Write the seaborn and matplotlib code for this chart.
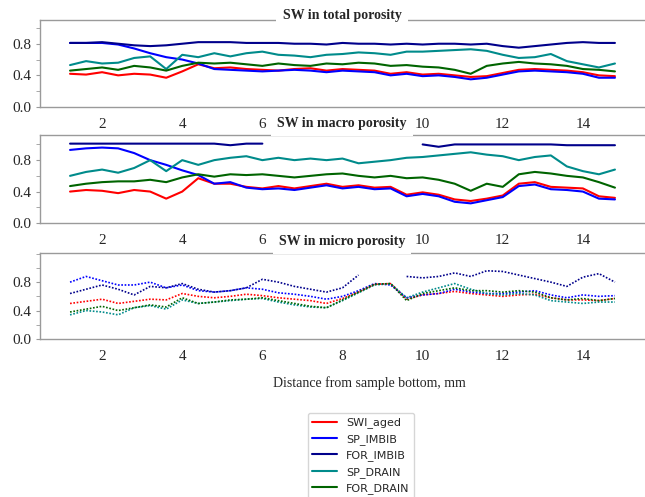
import numpy as np
import pandas as pd
import matplotlib
matplotlib.use('Agg')
import matplotlib.pyplot as plt
from matplotlib.lines import Line2D
from matplotlib.ticker import MultipleLocator
import seaborn as sns

# x : distance from sample bottom (mm)
x_mm = [1.2, 1.6, 2.0, 2.4, 2.8, 3.2, 3.6, 4.0, 4.4, 4.8, 5.2, 5.6, 6.0, 6.4, 6.8, 7.2, 7.6, 8.0,
        8.4, 8.8, 9.2, 9.6, 10.0, 10.4, 10.8, 11.2, 11.6, 12.0, 12.4, 12.8, 13.2, 13.6, 14.0, 14.4, 14.8]

series_names = ['SWI_aged', 'SP_IMBIB', 'FOR_IMBIB', 'SP_DRAIN', 'FOR_DRAIN']
series_colors = ['#ff0000', '#0000ff', '#00008b', '#008b8b', '#006400']
panel_titles = ['SW in total porosity', 'SW in macro porosity', 'SW in micro porosity']
nan = np.nan

# total porosity
tot_swi = [.42, .41, .44, .40, .42, .41, .37, .45, .54, .49, .50, .48, .47, .46, .48, .49, .46, .48,
           .47, .46, .42, .44, .41, .42, .40, .38, .39, .43, .47, .48, .47, .46, .44, .40, .39]
tot_sp_imb = [.81, .81, .81, .79, .74, .68, .63, .60, .55, .48, .47, .46, .45, .46, .47, .46, .44, .46,
              .45, .44, .40, .42, .39, .40, .38, .35, .37, .41, .45, .46, .45, .44, .42, .37, .37]
tot_for_imb = [.81, .81, .82, .80, .78, .77, .78, .80, .82, .82, .82, .81, .81, .81, .80, .80, .79, .81,
               .80, .80, .79, .80, .79, .80, .80, .79, .80, .77, .75, .77, .79, .81, .82, .81, .81]
tot_sp_dr = [.53, .58, .55, .56, .62, .64, .48, .66, .63, .68, .64, .68, .70, .66, .65, .63, .66, .67,
             .69, .68, .66, .70, .70, .71, .72, .73, .71, .66, .62, .63, .67, .58, .54, .50, .55]
tot_for_dr = [.46, .48, .50, .47, .52, .50, .46, .52, .56, .55, .56, .54, .52, .55, .53, .52, .55, .54,
              .56, .55, .52, .53, .51, .50, .47, .42, .52, .55, .57, .55, .54, .52, .48, .47, .45]

# macro porosity
mac_swi = [.40, .42, .41, .38, .42, .40, .31, .40, .57, .50, .50, .46, .44, .47, .44, .47, .50, .46,
           .48, .45, .46, .36, .39, .36, .30, .28, .31, .35, .50, .52, .46, .45, .44, .34, .32]
mac_sp_imb = [.93, .95, .96, .95, .89, .80, .74, .67, .61, .50, .52, .45, .43, .44, .42, .45, .48, .44,
              .46, .43, .44, .34, .37, .34, .27, .25, .29, .33, .47, .49, .43, .42, .40, .31, .30]
mac_for_imb = [1.01, 1.01, 1.01, 1.01, 1.01, 1.01, 1.01, 1.01, 1.01, 1.01, .99, 1.01, 1.01, nan, nan, nan, nan, nan,
               nan, nan, nan, nan, 1.0, .97, 1.0, 1.0, 1.0, 1.0, 1.0, 1.0, 1.0, .99, .99, .99, .99]
mac_sp_dr = [.60, .65, .68, .64, .70, .80, .66, .80, .74, .80, .83, .85, .80, .83, .80, .82, .80, .82,
             .76, .78, .80, .83, .84, .86, .88, .90, .87, .85, .80, .84, .86, .72, .66, .62, .68]
mac_for_dr = [.47, .50, .52, .53, .53, .55, .52, .58, .62, .59, .62, .61, .62, .60, .58, .60, .62, .63,
              .60, .58, .60, .57, .58, .55, .50, .41, .50, .46, .62, .65, .63, .60, .58, .52, .45]

# micro porosity
mic_swi = [.50, .53, .56, .50, .53, .56, .55, .64, .60, .58, .60, .63, .61, .58, .56, .54, .50, .57,
           .66, .77, .78, .56, .62, .64, .67, .64, .62, .60, .62, .63, .58, .55, .55, .54, .57]
mic_sp_imb = [.80, .88, .82, .76, .76, .80, .72, .76, .68, .66, .68, .72, .70, .65, .63, .60, .56, .60,
              .68, .78, .76, .58, .62, .64, .70, .66, .64, .64, .66, .68, .62, .58, .62, .60, .61]
mic_for_imb = [.64, .70, .76, .70, .62, .74, .72, .78, .70, .66, .68, .72, .84, .80, .74, .70, .66, .72,
               .90, nan, nan, .88, .86, .88, .93, .88, .96, .95, .90, .85, .80, .74, .87, .92, .80]
mic_sp_dr = [.34, .40, .38, .34, .44, .47, .42, .55, .50, .52, .54, .56, .57, .52, .48, .45, .44, .54,
             .65, .76, .78, .58, .66, .72, .78, .70, .64, .62, .64, .62, .54, .52, .50, .52, .52]
mic_for_dr = [.38, .42, .46, .40, .44, .48, .45, .58, .50, .52, .55, .56, .58, .54, .50, .46, .44, .55,
              .66, .77, .78, .54, .64, .68, .72, .68, .68, .66, .68, .66, .58, .55, .57, .54, .57]

panels = [
    [tot_swi, tot_sp_imb, tot_for_imb, tot_sp_dr, tot_for_dr],
    [mac_swi, mac_sp_imb, mac_for_imb, mac_sp_dr, mac_for_dr],
    [mic_swi, mic_sp_imb, mic_for_imb, mic_sp_dr, mic_for_dr],
]


def to_long(values):
    rows = []
    for name, vals in zip(series_names, values):
        seg = 0
        for xv, yv in zip(x_mm, vals):
            if np.isnan(yv):
                seg += 1
                continue
            rows.append({'x': xv, 'sw': yv, 'series': name, 'seg': f'{name}_{seg}'})
    return pd.DataFrame(rows)


sns.set_style('white')
plt.rcParams['font.family'] = ['Liberation Serif', 'DejaVu Serif']

W, H = 645, 497
fig = plt.figure(figsize=(W / 100, H / 100), dpi=100)

# axes position in pixels: (top, bottom)
boxes = [(20, 107), (135, 223), (253, 339)]
ytops = [1.10, 1.12, 1.21]
title_y = [15, 123, 241]
palette = dict(zip(series_names, series_colors))
xticks = list(range(2, 15, 2))

for i, (vals, (top, bot)) in enumerate(zip(panels, boxes)):
    ax = fig.add_axes([40 / W, 1 - bot / H, 1 - 40 / W, (bot - top) / H])
    df = to_long(vals)
    dotted = i == 2
    sns.lineplot(data=df, x='x', y='sw', hue='series', units='seg', estimator=None,
                 palette=palette, ax=ax, legend=False, sort=False,
                 lw=1.2 if dotted else 1.5, linestyle=(0, (1, 1)) if dotted else '-')
    ax.set_xlim(0.45, 15.55)
    ax.set_ylim(0, ytops[i])
    ax.set_xticks(xticks)
    # the "8" label sits under the next panel's title
    if i < 2:
        ax.set_xticklabels(['' if t == 8 else str(t) for t in xticks])
    ax.yaxis.set_minor_locator(MultipleLocator(0.2))
    ax.set_yticks([0.0, 0.4, 0.8])
    ax.set_yticklabels(['0.0', '0.4', '0.8'])
    ax.set_xlabel('')
    ax.set_ylabel('')
    for s in ['left', 'bottom', 'top']:
        ax.spines[s].set_color('#9a9a9a')
        ax.spines[s].set_linewidth(1.0)
    ax.spines['right'].set_visible(False)
    ax.tick_params(axis='x', direction='in', length=3, color='#9a9a9a', labelsize=11, pad=8)
    ax.tick_params(axis='y', which='both', direction='out', length=3, color='#9a9a9a',
                   labelsize=11, pad=3, left=True)

    fig.text(342 / W, 1 - title_y[i] / H, panel_titles[i], ha='center', va='center',
             fontsize=10, fontweight='bold', zorder=10,
             bbox=dict(boxstyle='square,pad=0.45', fc='white', ec='none'))

fig.text(369 / W, 1 - 383 / H, 'Distance from sample bottom, mm', ha='center', va='center',
         fontsize=10)

handles = [Line2D([0], [0], color=c, lw=1.5) for c in series_colors]
fig.legend(handles, series_names, loc='upper left', bbox_to_anchor=(308 / W, 1 - 413 / H),
           prop={'family': 'DejaVu Sans', 'size': 8}, frameon=True, edgecolor='#cccccc',
           handlelength=2.2, borderaxespad=0)

fig.savefig('out.png', dpi=100)
